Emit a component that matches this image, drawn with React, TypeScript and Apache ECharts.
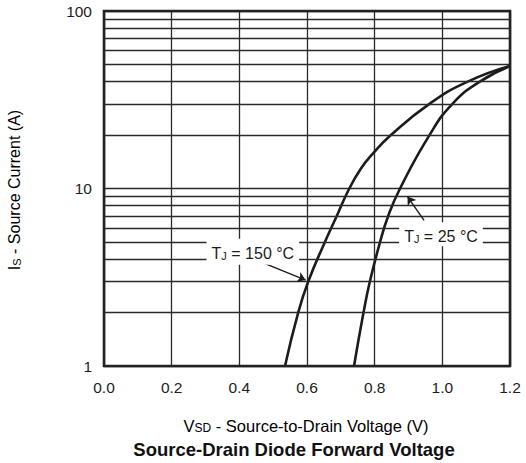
import React, { useEffect, useRef } from "react";
import * as echarts from "echarts";

// Axis ranges and grid
const voltageMin = 0;
const voltageMax = 1.2;
const voltageStep = 0.2;
const currentMin = 1;
const currentMax = 100;
const currentGridLines = [2, 3, 4, 5, 6, 7, 8, 9, 20, 30, 40, 50, 60, 70, 80, 90];

// Diode forward characteristic, TJ = 150 °C
const tj150Voltage = [0.535, 0.574, 0.604, 0.653, 0.688, 0.725, 0.76, 0.792, 0.848, 0.962, 1.075, 1.2];
const tj150Current = [1, 2, 3, 5, 7, 10, 13, 15.5, 20, 30, 40, 49];

// Diode forward characteristic, TJ = 25 °C
const tj25Voltage = [0.739, 0.767, 0.786, 0.816, 0.84, 0.875, 0.962, 1.03, 1.111, 1.2];
const tj25Current = [1, 2, 3, 5, 7, 10, 20, 30, 40, 49];

const FONT = "'Liberation Sans', Arial, sans-serif";
const INK = "#1c1c1c";

const zip = (xs: number[], ys: number[]) => xs.map((x, i) => [x, ys[i]]);

// Text with a subscript part, e.g. T_J, I_S, V_SD
const mainStyle = (size: number) => ({ fontSize: size, fontFamily: FONT, color: INK, lineHeight: 20, verticalAlign: "bottom" });
const subStyle = (size: number) => ({ fontSize: size, fontFamily: FONT, color: INK, lineHeight: 9, verticalAlign: "bottom" });

const tjLabel = (temp: string) => `{t|T}{j|J}{t| = ${temp} °C}`;
const tjRich = { t: mainStyle(16), j: subStyle(11) };

export default function App() {
  const ref = useRef<HTMLDivElement>(null);

  useEffect(() => {
    if (!ref.current) return;
    const chart = echarts.init(ref.current, null, { renderer: "svg" });

    const curveStyle = { color: INK, width: 2.6 };
    const arrowStyle = { color: INK, width: 1.4, type: "solid" as const };

    chart.setOption({
      animation: false,
      backgroundColor: "#ffffff",
      grid: {
        left: 104,
        top: 11,
        width: 406,
        height: 355,
        show: true,
        borderColor: "#222",
        borderWidth: 2.6,
        backgroundColor: "transparent",
        z: 10,
      },
      xAxis: {
        type: "value",
        min: voltageMin,
        max: voltageMax,
        interval: voltageStep,
        axisLine: { show: false },
        axisTick: { show: false },
        axisLabel: {
          margin: 13,
          fontSize: 15.5,
          fontFamily: FONT,
          color: INK,
          formatter: (v: number) => v.toFixed(1),
        },
        splitLine: { show: true, lineStyle: { color: "#2a2a2a", width: 1.3 } },
      },
      yAxis: {
        type: "log",
        logBase: 10,
        min: currentMin,
        max: currentMax,
        axisLine: { show: false },
        axisTick: { show: false },
        axisLabel: {
          margin: 12,
          fontSize: 15.5,
          fontFamily: FONT,
          color: INK,
          formatter: (v: number) => String(Math.round(v)),
        },
        splitLine: { show: true, lineStyle: { color: "#2a2a2a", width: 1.3 } },
      },
      graphic: [
        {
          type: "text",
          x: 12,
          y: 190,
          rotation: Math.PI / 2,
          style: {
            text: "{m|I}{s|S}{m| - Source Current (A)}",
            align: "center",
            verticalAlign: "middle",
            rich: { m: mainStyle(16), s: subStyle(11) },
          },
        },
        {
          type: "text",
          x: 306,
          y: 424,
          style: {
            text: "{m|V}{s|SD}{m| - Source-to-Drain Voltage (V)}",
            align: "center",
            verticalAlign: "middle",
            rich: { m: mainStyle(16.5), s: subStyle(12) },
          },
        },
        {
          type: "text",
          x: 294,
          y: 449,
          style: {
            text: "Source-Drain Diode Forward Voltage",
            align: "center",
            verticalAlign: "middle",
            fontSize: 18.5,
            fontWeight: "bold",
            fontFamily: FONT,
            fill: "#111",
          },
        },
      ],
      series: [
        {
          name: "grid",
          type: "line",
          data: [],
          silent: true,
          z: 1,
          markLine: {
            silent: true,
            symbol: ["none", "none"],
            label: { show: false },
            lineStyle: { color: "#2a2a2a", width: 1.3, type: "solid" },
            data: currentGridLines.map((v) => ({ yAxis: v })),
          },
        },
        {
          name: "TJ = 150 °C",
          type: "line",
          data: zip(tj150Voltage, tj150Current),
          smooth: 0.5,
          showSymbol: false,
          lineStyle: curveStyle,
          z: 4,
          markLine: {
            silent: true,
            symbol: ["none", "arrow"],
            symbolSize: 8,
            label: { show: false },
            lineStyle: arrowStyle,
            data: [[{ coord: [0.476, 3.77] }, { coord: [0.596, 3.05] }]],
          },
          markPoint: {
            silent: true,
            symbol: "rect",
            symbolSize: 0,
            data: [
              {
                coord: [0.44, 4.4],
                label: {
                  show: true,
                  position: "inside",
                  formatter: tjLabel("150"),
                  backgroundColor: "#ffffff",
                  padding: [3, 5, 3, 5],
                  rich: tjRich,
                },
              },
            ],
          },
        },
        {
          name: "TJ = 25 °C",
          type: "line",
          data: zip(tj25Voltage, tj25Current),
          smooth: 0.5,
          showSymbol: false,
          lineStyle: curveStyle,
          z: 4,
          markLine: {
            silent: true,
            symbol: ["none", "arrow"],
            symbolSize: 8,
            label: { show: false },
            lineStyle: arrowStyle,
            data: [[{ coord: [0.946, 6.62] }, { coord: [0.897, 9.0] }]],
          },
          markPoint: {
            silent: true,
            symbol: "rect",
            symbolSize: 0,
            data: [
              {
                coord: [0.996, 5.53],
                label: {
                  show: true,
                  position: "inside",
                  formatter: tjLabel("25"),
                  backgroundColor: "#ffffff",
                  padding: [2, 5, 2, 5],
                  rich: tjRich,
                },
              },
            ],
          },
        },
      ],
    });

    return () => chart.dispose();
  }, []);

  return (
    <div
      ref={ref}
      style={{ position: "fixed", left: 0, top: 0, width: 526, height: 463, background: "#fff" }}
    />
  );
}
